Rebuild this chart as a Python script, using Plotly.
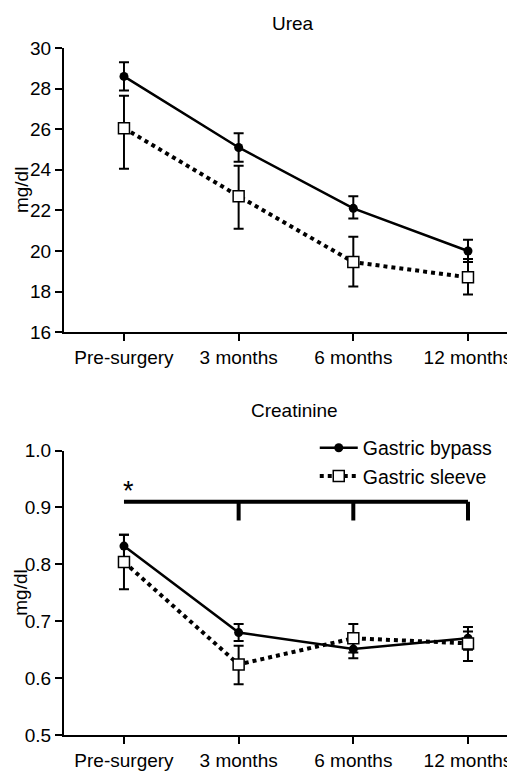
import numpy as np
import plotly.graph_objects as go

categories = ["Pre-surgery", "3 months", "6 months", "12 months"]

# Urea (mg/dl)
urea_bypass = [28.6, 25.1, 22.1, 20.0]
urea_bypass_hi = [29.3, 25.8, 22.7, 20.55]
urea_bypass_lo = [27.9, 24.4, 21.6, 19.45]
urea_sleeve = [26.05, 22.7, 19.45, 18.7]
urea_sleeve_hi = [27.65, 24.2, 20.7, 19.6]
urea_sleeve_lo = [24.05, 21.1, 18.25, 17.85]

# Creatinine (mg/dl)
crea_bypass = [0.832, 0.680, 0.651, 0.670]
crea_bypass_hi = [0.852, 0.695, 0.667, 0.690]
crea_bypass_lo = [0.812, 0.665, 0.635, 0.650]
crea_sleeve = [0.804, 0.624, 0.670, 0.661]
crea_sleeve_hi = [0.852, 0.657, 0.695, 0.682]
crea_sleeve_lo = [0.756, 0.589, 0.645, 0.630]

# significance bracket (creatinine)
bracket_y = 0.91
bracket_drop = 0.877
bracket_x = [0, 1, 2, 3]

FONT = "Liberation Sans, Arial, sans-serif"
FS = 19


def err(mean, hi, lo):
    m = np.array(mean)
    return dict(type="data", symmetric=False, array=list(np.array(hi) - m),
                arrayminus=list(m - np.array(lo)), color="black", thickness=2, width=5)


fig = go.Figure()


def add_pair(bm, bhi, blo, sm, shi, slo, xa, ya, show):
    fig.add_trace(go.Scatter(
        x=categories, y=bm, name="Gastric bypass", mode="lines+markers",
        line=dict(color="black", width=2.5),
        marker=dict(symbol="circle", size=9, color="black"),
        error_y=err(bm, bhi, blo), xaxis=xa, yaxis=ya, showlegend=show))
    fig.add_trace(go.Scatter(
        x=categories, y=sm, name="Gastric sleeve", mode="lines+markers",
        line=dict(color="black", width=4, dash="dot"),
        marker=dict(symbol="square", size=11, color="white",
                    line=dict(color="black", width=1.5)),
        error_y=err(sm, shi, slo), xaxis=xa, yaxis=ya, showlegend=show))


add_pair(urea_bypass, urea_bypass_hi, urea_bypass_lo,
         urea_sleeve, urea_sleeve_hi, urea_sleeve_lo, "x", "y", False)
add_pair(crea_bypass, crea_bypass_hi, crea_bypass_lo,
         crea_sleeve, crea_sleeve_hi, crea_sleeve_lo, "x2", "y2", True)

xcommon = dict(type="category", range=[-0.523, 3.41], showline=True, linecolor="black",
               linewidth=2, ticks="outside", ticklen=7, tickwidth=2, tickcolor="black",
               showgrid=False, zeroline=False,
               tickfont=dict(family=FONT, size=FS, color="black"))
ycommon = dict(showline=True, linecolor="black", linewidth=2, ticks="outside",
               ticklen=7, tickwidth=2, tickcolor="black", showgrid=False, zeroline=False,
               tickfont=dict(family=FONT, size=FS, color="black"))

TOP_DOM = [0.5864, 1.0]
BOT_DOM = [0, 0.4141]

fig.update_layout(
    width=507, height=763,
    margin=dict(l=56, r=0, t=40, b=34),
    paper_bgcolor="white", plot_bgcolor="white",
    font=dict(family=FONT, size=FS, color="black"),
    xaxis=dict(**xcommon, domain=[0, 1], anchor="y"),
    yaxis=dict(**ycommon, domain=TOP_DOM, range=[16, 30], dtick=2, anchor="x"),
    xaxis2=dict(**xcommon, domain=[0, 1], anchor="y2"),
    yaxis2=dict(**ycommon, domain=BOT_DOM, range=[0.5, 1.0], dtick=0.1,
                tickformat=".1f", anchor="x2"),
    legend=dict(x=0.556, y=0.446, xanchor="left", yanchor="top",
                bgcolor="rgba(0,0,0,0)", font=dict(family=FONT, size=19.5, color="black"),
                tracegroupgap=0, itemwidth=38),
    showlegend=True,
)

# bracket shapes
fig.add_shape(type="line", xref="x2", yref="y2", x0=bracket_x[0], x1=bracket_x[-1],
              y0=bracket_y, y1=bracket_y, line=dict(color="black", width=4))
for bx in bracket_x[1:]:
    fig.add_shape(type="line", xref="x2", yref="y2", x0=bx, x1=bx,
                  y0=bracket_y, y1=bracket_drop, line=dict(color="black", width=4))

fig.add_annotation(text="*", xref="x2", yref="y2", x=0.04, y=0.928, showarrow=False,
                   font=dict(family=FONT, size=27, color="black"))

# panel titles
fig.add_annotation(text="Urea", xref="paper", yref="paper", x=0.508, y=1.0, yshift=25,
                   showarrow=False, yanchor="middle",
                   font=dict(family=FONT, size=FS, color="black"))
fig.add_annotation(text="Creatinine", xref="paper", yref="paper", x=0.512, y=BOT_DOM[1],
                   yshift=40, showarrow=False, yanchor="middle",
                   font=dict(family=FONT, size=FS, color="black"))

# y-axis titles
for dom in (TOP_DOM, BOT_DOM):
    fig.add_annotation(text="mg/dl", xref="paper", yref="paper", x=0,
                       y=(dom[0] + dom[1]) / 2, xshift=-43, textangle=-90,
                       showarrow=False, xanchor="center", yanchor="middle",
                       font=dict(family=FONT, size=FS, color="black"))

fig.write_html("out.html")
